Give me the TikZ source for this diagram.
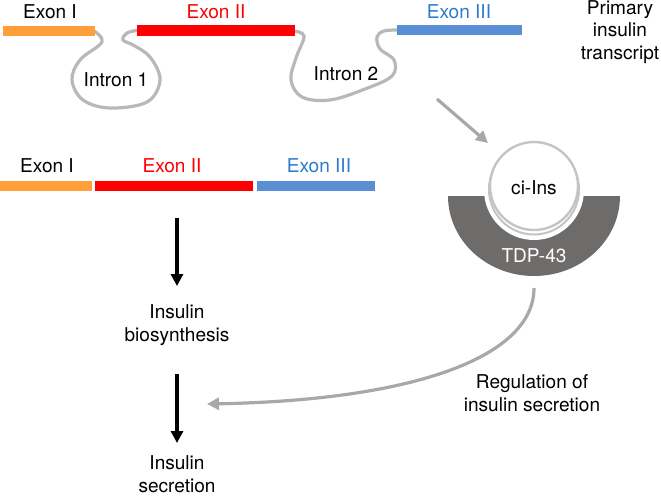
\documentclass[tikz,border=0pt]{standalone}
\usepackage{fontspec}
\setmainfont{TeX Gyre Heros}
\usetikzlibrary{arrows.meta}
\definecolor{exorange}{HTML}{FF9F3A}
\definecolor{exred}{HTML}{FF0000}
\definecolor{exblue}{HTML}{5A8FD5}
\definecolor{lblblue}{HTML}{2B7BD0}
\definecolor{introngray}{HTML}{B8B8B8}
\definecolor{arrowgray}{HTML}{A8A8A8}
\definecolor{tdpgray}{HTML}{6E6B6B}
\definecolor{ringgray}{HTML}{C4C4C4}
\tikzset{
  lbl/.style={inner sep=0pt, align=center},
  intron/.style={draw=introngray, line width=2.4pt, line cap=round},
  grayarrow/.style={draw=arrowgray, line width=2.4pt, -{Triangle[length=9pt,width=9pt]}},
  blackarrow/.style={draw=black, line width=2.3pt, -{Triangle[length=9pt,width=9pt]}},
}
\begin{document}
\begin{tikzpicture}[x=0.75pt,y=-0.75pt, font=\fontsize{14.3}{16.8}\selectfont]
\useasboundingbox (0,0) rectangle (661,496);
% introns
\draw[intron] plot[smooth, tension=0.6] coordinates {(94,31) (102,42) (80,60) (72,80) (83,100) (110,108) (147,102) (160,80) (150,57) (133,45) (123,40) (127,33) (139,30)};
\draw[intron] plot[smooth, tension=0.6] coordinates {(293,31) (304,36) (296,58) (291,80) (302,97) (330,100) (365,89) (392,76) (394,60) (380,49) (377,37) (384,31) (399,30)};
% top exons
\fill[exorange] (3,26) rectangle (95,36);
\fill[exred] (137,25) rectangle (295,36);
\fill[exblue] (397,25) rectangle (522,35);
\node[lbl] (e1) at (50,12) {Exon I};
\node[lbl, text=exred] (e2) at (216,12) {Exon II};
\node[lbl, text=lblblue] (e3) at (459,12) {Exon III};
\node[lbl] (pit) at (620,32) {Primary\\insulin\\transcript};
\node[lbl] (in1) at (116,80) {Intron 1};
\node[lbl] (in2) at (346,74) {Intron 2};
% bottom mature transcript
\fill[exorange] (0,181) rectangle (92,191);
\fill[exred] (95,181) rectangle (253,191);
\fill[exblue] (257,181) rectangle (375,191);
\node[lbl] (b1) at (47,166) {Exon I};
\node[lbl, text=exred] (b2) at (172,166) {Exon II};
\node[lbl, text=lblblue] (b3) at (319,166) {Exon III};
% TDP-43 and ci-Ins
\begin{scope}
  \clip (440,196) rectangle (630,290);
  \fill[tdpgray] (534,196) ellipse [x radius=86, y radius=80];
\end{scope}
\fill[white] (534,190) circle [radius=50];
\draw[ringgray, line width=1.5pt] (534,189.5) circle [radius=45];
\node[circle, draw=ringgray, line width=1.8pt, fill=white, minimum size=66pt, inner sep=0pt] (ci) at (534,186) {};
\node[lbl] (cilbl) at (534,188) {ci-Ins};
\node[lbl, text=white] (tdp) at (534,256) {TDP-43};
% gray arrow into complex
\coordinate (ga1s) at (437,99);
\coordinate (ga1e) at (488,143);
\draw[grayarrow] (ga1s) -- (ga1e);
% black arrows and texts
\coordinate (ba1s) at (177,218);
\coordinate (ba1e) at (177,286);
\draw[blackarrow] (ba1s) -- (ba1e);
\node[lbl] (bio) at (177,325) {Insulin\\biosynthesis};
\coordinate (ba2s) at (177,374);
\coordinate (ba2e) at (177,443);
\draw[blackarrow] (ba2s) -- (ba2e);
\node[lbl] (sec) at (177,474) {Insulin\\secretion};
% regulation arrow
\coordinate (ra1s) at (534,288);
\coordinate (ra1e) at (207,404);
\draw[grayarrow] (ra1s) .. controls (534,355) and (420,400) .. (ra1e);
\node[lbl] (reg) at (532,393) {Regulation of\\insulin secretion};
\end{tikzpicture}
\end{document}
